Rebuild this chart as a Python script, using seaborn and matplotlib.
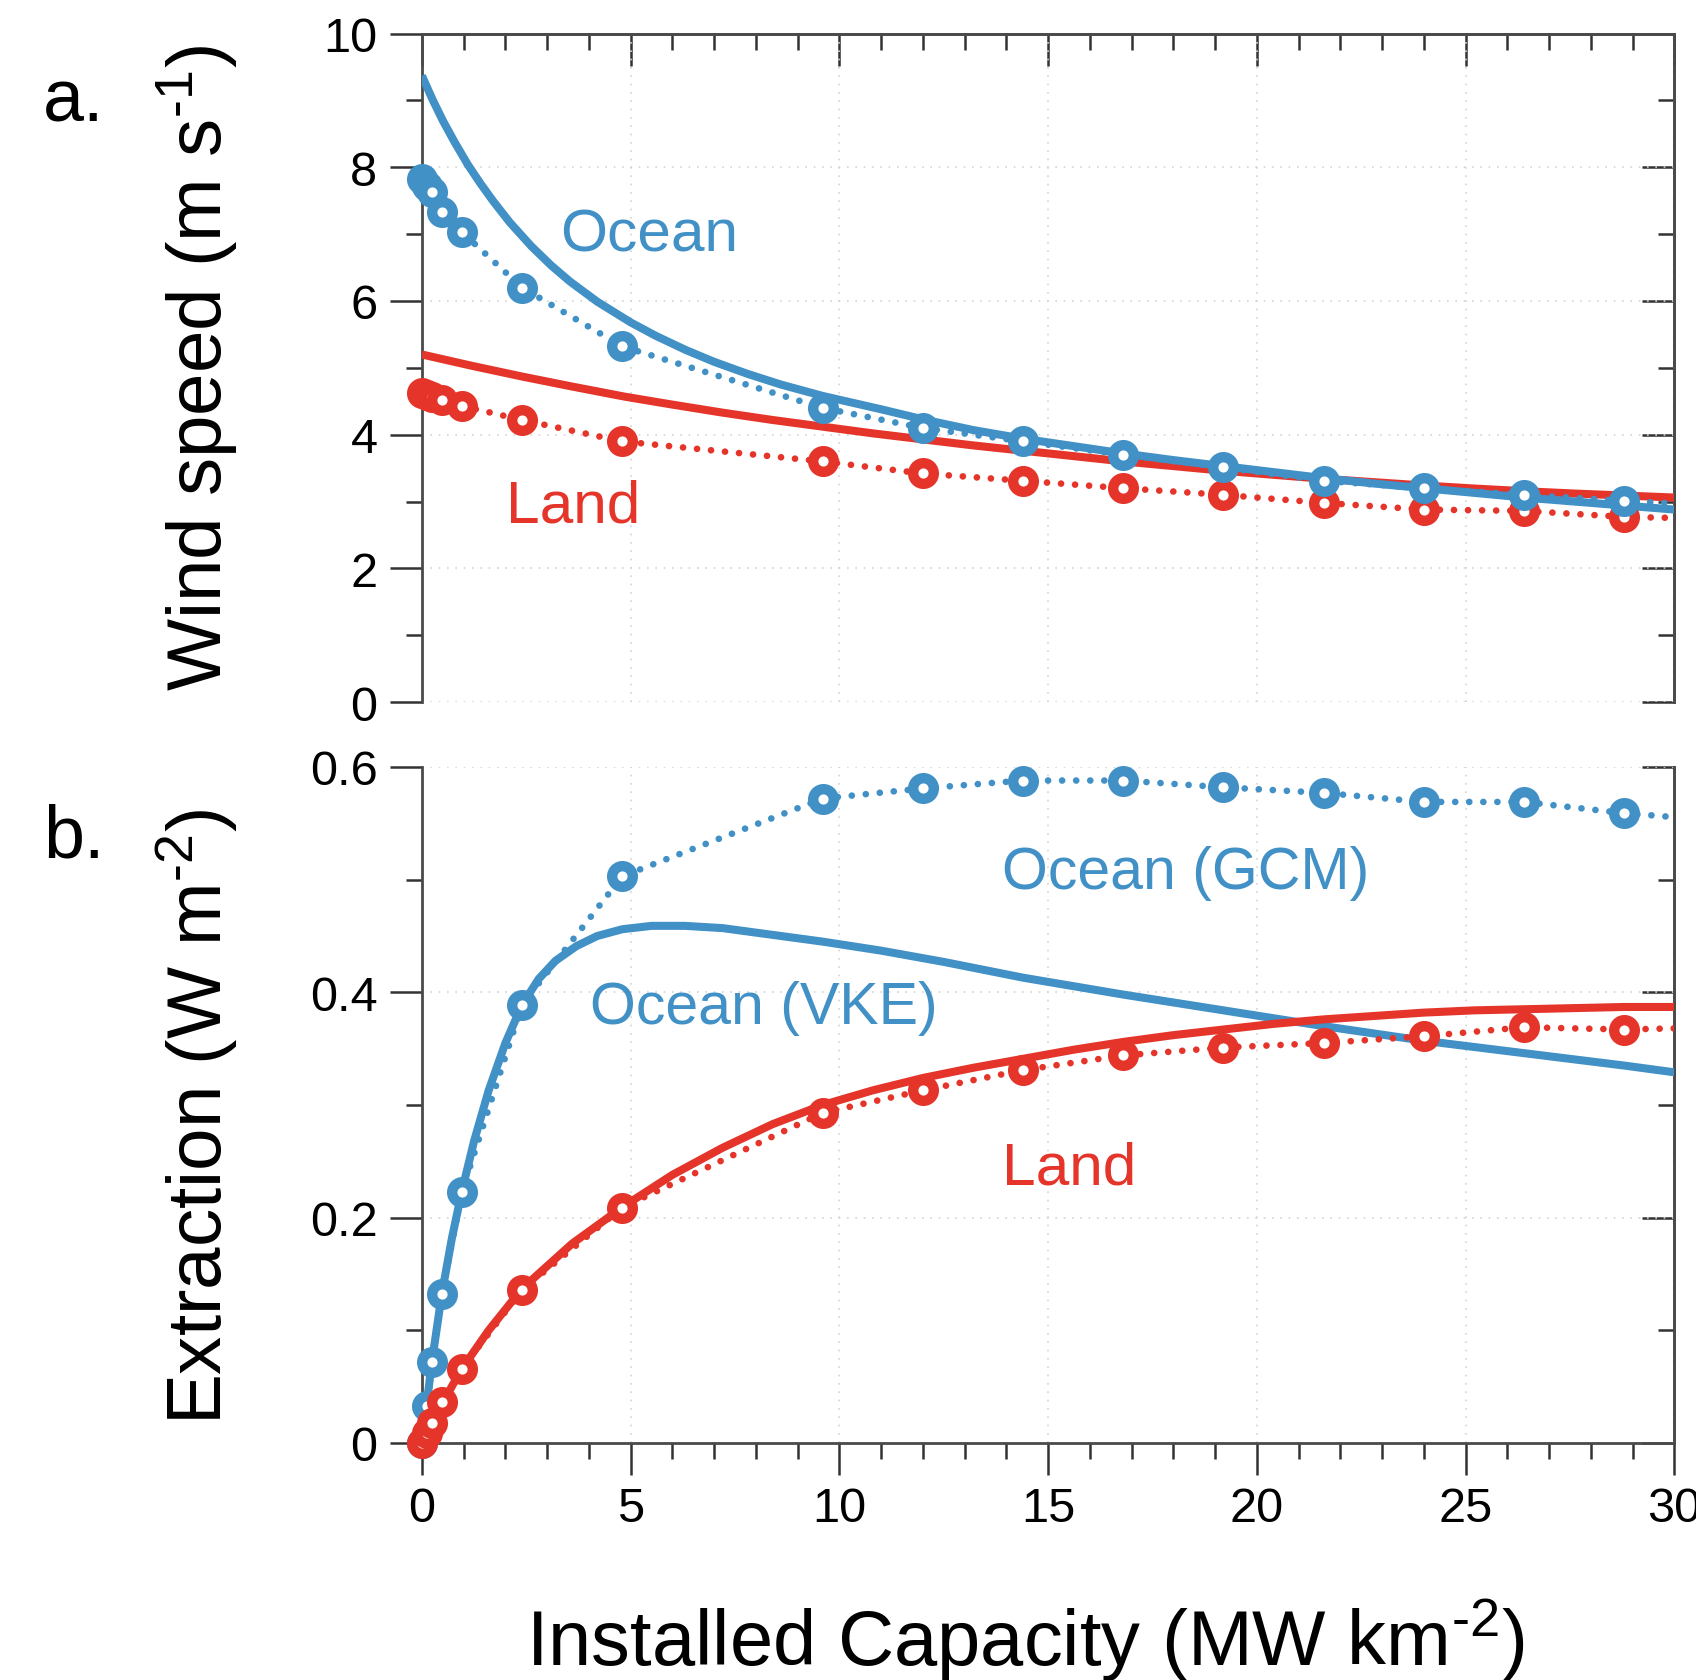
import matplotlib
matplotlib.use("Agg")
import matplotlib.pyplot as plt
import seaborn as sns
from matplotlib.ticker import MultipleLocator

# ---- GCM simulations (markers + dotted lines) ----
capacity = [0, 0.12, 0.24, 0.48, 0.96, 2.4, 4.8, 9.6, 12, 14.4, 16.8, 19.2,
            21.6, 24, 26.4, 28.8, 31.2]
ocean_gcm_wind = [7.82, 7.72, 7.63, 7.33, 7.03, 6.20, 5.32, 4.40, 4.10, 3.90,
                  3.70, 3.51, 3.31, 3.20, 3.10, 3.01, 2.93]
land_gcm_wind = [4.62, 4.60, 4.57, 4.52, 4.43, 4.22, 3.90, 3.60, 3.42, 3.31,
                 3.20, 3.10, 2.98, 2.88, 2.86, 2.77, 2.74]
ocean_gcm_extr = [0, 0.033, 0.072, 0.132, 0.223, 0.389, 0.503, 0.572, 0.581,
                  0.588, 0.588, 0.582, 0.577, 0.569, 0.569, 0.559, 0.552]
land_gcm_extr = [0, 0.009, 0.018, 0.036, 0.066, 0.136, 0.209, 0.293, 0.313,
                 0.331, 0.344, 0.351, 0.355, 0.361, 0.369, 0.367, 0.369]

# ---- VKE model curves (solid lines) ----
ocean_vke_wind_x = [0, 0.25, 0.5, 0.78, 1.1, 1.4, 1.7, 2.1, 2.62, 3.1, 3.55,
                    4.2, 5.0, 5.6, 6.31, 7.0, 7.8, 8.6, 9.6, 11, 12, 13.2,
                    14.4, 15.6, 16.8, 18, 19.2, 20.4, 21.6, 22.8, 24, 25.2,
                    26.4, 27.6, 28.8, 30]
ocean_vke_wind = [9.37, 9.02, 8.70, 8.38, 8.04, 7.76, 7.50, 7.18, 6.82, 6.53,
                  6.29, 5.99, 5.68, 5.48, 5.27, 5.09, 4.91, 4.75, 4.58, 4.38,
                  4.23, 4.07, 3.94, 3.83, 3.72, 3.62, 3.53, 3.44, 3.35, 3.27,
                  3.20, 3.13, 3.06, 3.00, 2.94, 2.88]
land_vke_wind_x = [0, 1.2, 2.4, 3.6, 4.85, 6.0, 7.2, 8.4, 9.6, 10.8, 12,
                   13.2, 14.4, 15.6, 16.8, 18, 19.2, 20.4, 21.6, 22.8, 24,
                   25.2, 26.4, 27.6, 28.8, 30]
land_vke_wind = [5.20, 5.03, 4.87, 4.72, 4.57, 4.45, 4.33, 4.22, 4.12, 4.02,
                 3.93, 3.84, 3.76, 3.68, 3.60, 3.53, 3.46, 3.40, 3.34, 3.29,
                 3.24, 3.195, 3.155, 3.12, 3.09, 3.06]
ocean_vke_extr_x = [0, 0.12, 0.24, 0.48, 0.72, 0.96, 1.25, 1.6, 2.0, 2.4,
                    2.8, 3.2, 3.7, 4.2, 4.8, 5.5, 6.3, 7.2, 8.2, 9.6, 11,
                    12.5, 14.4, 16.8, 19.2, 21.6, 24, 26.4, 28.8, 30]
ocean_vke_extr = [0, 0.036, 0.072, 0.133, 0.182, 0.224, 0.268, 0.313, 0.355,
                  0.389, 0.412, 0.428, 0.441, 0.450, 0.456, 0.459, 0.459,
                  0.457, 0.452, 0.445, 0.437, 0.427, 0.413, 0.398, 0.384,
                  0.370, 0.357, 0.346, 0.335, 0.329]
land_vke_extr_x = [0, 0.5, 0.96, 1.6, 2.4, 3.6, 4.83, 6.0, 7.2, 8.4, 9.6,
                   10.8, 12, 13.2, 14.4, 15.6, 16.8, 18, 19.2, 20.4, 21.6,
                   22.8, 24, 25.2, 26.4, 27.6, 28.8, 30]
land_vke_extr = [0, 0.036, 0.066, 0.100, 0.137, 0.177, 0.210, 0.238, 0.262,
                 0.283, 0.300, 0.313, 0.324, 0.333, 0.341, 0.349, 0.356,
                 0.362, 0.367, 0.372, 0.376, 0.379, 0.382, 0.384, 0.385,
                 0.386, 0.387, 0.387]

x_ticks = [0, 5, 10, 15, 20, 25, 30]
x_ticklabels = ["0", "5", "10", "15", "20", "25", "30"]
wind_ticks = [0, 2, 4, 6, 8, 10]
wind_ticklabels = ["0", "2", "4", "6", "8", "10"]
extr_ticks = [0, 0.2, 0.4, 0.6]
extr_ticklabels = ["0", "0.2", "0.4", "0.6"]

BLUE = "#4190c6"
RED = "#e5342a"
SPINE = "#4a4a4a"

sns.set_theme(style="white")
plt.rcParams["font.family"] = ["Liberation Sans", "DejaVu Sans"]
plt.rcParams["mathtext.fontset"] = "custom"
plt.rcParams["mathtext.rm"] = "Liberation Sans"
plt.rcParams["mathtext.it"] = "Liberation Sans"
plt.rcParams["mathtext.default"] = "regular"
plt.rcParams["text.color"] = "black"
plt.rcParams["xtick.labelcolor"] = "black"
plt.rcParams["ytick.labelcolor"] = "black"

fig = plt.figure(figsize=(16.96, 16.81), dpi=100)
ax_a = fig.add_axes([0.24876, 0.58174, 0.73850, 0.39768])
ax_b = fig.add_axes([0.24876, 0.14099, 0.73850, 0.40214])

SOLID_LW = 5.8
DOT_LW = 4.8
DOTS = (0, (0.01, 2.1))
MARKER_S = 220
MARKER_LW = 7.5


def solid(ax, x, y, color):
    sns.lineplot(x=x, y=y, ax=ax, color=color, lw=SOLID_LW, errorbar=None,
                 zorder=3)
    ax.lines[-1].set_solid_capstyle("butt")


def gcm(ax, x, y, color):
    sns.lineplot(x=x, y=y, ax=ax, color=color, lw=DOT_LW, errorbar=None,
                 zorder=4)
    ln = ax.lines[-1]
    ln.set_linestyle(DOTS)
    ln.set_dash_capstyle("round")
    inside = [i for i, v in enumerate(x) if v <= 30]
    sns.scatterplot(x=[x[i] for i in inside], y=[y[i] for i in inside], ax=ax,
                    s=MARKER_S, color="white", edgecolor=color,
                    linewidth=MARKER_LW, zorder=5)
    pts = ax.collections[-1]
    pts.set_facecolor("white")
    pts.set_edgecolor(color)
    pts.set_linewidth(MARKER_LW)
    pts.set_sizes([MARKER_S])
    pts.set_clip_on(False)


# Panel a: wind speed
solid(ax_a, land_vke_wind_x, land_vke_wind, RED)
solid(ax_a, ocean_vke_wind_x, ocean_vke_wind, BLUE)
gcm(ax_a, capacity, land_gcm_wind, RED)
gcm(ax_a, capacity, ocean_gcm_wind, BLUE)

# Panel b: extraction
solid(ax_b, ocean_vke_extr_x, ocean_vke_extr, BLUE)
solid(ax_b, land_vke_extr_x, land_vke_extr, RED)
gcm(ax_b, capacity, ocean_gcm_extr, BLUE)
gcm(ax_b, capacity, land_gcm_extr, RED)

MAJ_LEN, MIN_LEN, TW = 23, 11.5, 1.8
TICK_COLOR = "#333333"

for ax, ylim, yt, ytl, yminor in [
    (ax_a, (0, 10), wind_ticks, wind_ticklabels, 1),
    (ax_b, (0, 0.6), extr_ticks, extr_ticklabels, 0.1),
]:
    ax.set_xlim(0, 30)
    ax.set_ylim(*ylim)
    ax.set_xlabel("")
    ax.set_ylabel("")
    ax.set_yticks(yt, ytl)
    ax.yaxis.set_minor_locator(MultipleLocator(yminor))
    ax.set_xticks(x_ticks, x_ticklabels)
    ax.xaxis.set_minor_locator(MultipleLocator(1))
    ax.set_axisbelow(True)
    ax.grid(True, which="major", color="#d4d4d4", linestyle=(0, (1, 4)), lw=1.2)
    for sp in ax.spines.values():
        sp.set_color(SPINE)
        sp.set_linewidth(2.0)
    ax.tick_params(axis="y", which="major", direction="out", length=MAJ_LEN,
                   width=TW, color=TICK_COLOR, labelsize=35, pad=9,
                   left=True, right=False, labelcolor="black")
    ax.tick_params(axis="y", which="minor", direction="out", length=MIN_LEN,
                   width=TW, color=TICK_COLOR, left=True, right=False)
    # inward ticks along the right edge
    sr = ax.secondary_yaxis("right")
    sr.set_yticks(yt)
    sr.yaxis.set_minor_locator(MultipleLocator(yminor))
    sr.tick_params(axis="y", which="major", direction="in", length=MAJ_LEN,
                   width=TW, color=TICK_COLOR, labelright=False)
    sr.tick_params(axis="y", which="minor", direction="in", length=MIN_LEN,
                   width=TW, color=TICK_COLOR)
    sr.spines["right"].set_color(SPINE)
    sr.spines["right"].set_linewidth(2.0)

# Panel a: inward ticks on top, nothing at the bottom
ax_a.spines["bottom"].set_visible(False)
ax_a.tick_params(axis="x", which="both", bottom=False, top=False,
                 labelbottom=False)
st = ax_a.secondary_xaxis("top")
st.set_xticks(x_ticks)
st.xaxis.set_minor_locator(MultipleLocator(1))
st.tick_params(axis="x", which="major", direction="in", length=MAJ_LEN,
               width=TW, color=TICK_COLOR, labeltop=False)
st.tick_params(axis="x", which="minor", direction="in", length=MIN_LEN,
               width=TW, color=TICK_COLOR)
st.spines["top"].set_color(SPINE)
st.spines["top"].set_linewidth(2.0)

# Panel b: outward ticks along the bottom, open top
ax_b.spines["top"].set_visible(False)
ax_b.tick_params(axis="x", which="major", direction="out", length=MAJ_LEN,
                 width=TW, color=TICK_COLOR, labelsize=35, pad=8,
                 bottom=True, top=False, labelcolor="black")
ax_b.tick_params(axis="x", which="minor", direction="out", length=MIN_LEN,
                 width=TW, color=TICK_COLOR, bottom=True, top=False)

# Curve labels
LBL = 42.5
ax_a.text(3.32, 6.76, "Ocean", color=BLUE, fontsize=LBL + 1, ha="left", va="baseline")
ax_a.text(2.02, 2.70, "Land", color=RED, fontsize=LBL + 1, ha="left", va="baseline")
ax_b.text(13.89, 0.4925, "Ocean (GCM)", color=BLUE, fontsize=LBL, ha="left", va="baseline")
ax_b.text(4.02, 0.373, "Ocean (VKE)", color=BLUE, fontsize=LBL, ha="left", va="baseline")
ax_b.text(13.89, 0.230, "Land", color=RED, fontsize=LBL + 1, ha="left", va="baseline")

# Panel letters and axis titles
fig.text(43 / 1696, 1 - 121 / 1681, "a.", fontsize=53, ha="left", va="baseline")
fig.text(43 / 1696, 1 - 858 / 1681, "b.", fontsize=53, ha="left", va="baseline")
fig.text(222 / 1696, 1 - 368 / 1681, r"Wind speed (m s$^{\text{-1}}$)",
         fontsize=55, rotation=90, rotation_mode="anchor",
         ha="center", va="baseline")
fig.text(222 / 1696, 1 - 1117 / 1681, r"Extraction (W m$^{\text{-2}}$)",
         fontsize=55, rotation=90, rotation_mode="anchor",
         ha="center", va="baseline")
fig.text(1025 / 1696, 15 / 1681, r"Installed Capacity (MW km$^{\text{-2}}$)",
         fontsize=56, ha="center", va="baseline")

fig.savefig("out.png", dpi=100, facecolor="white")
